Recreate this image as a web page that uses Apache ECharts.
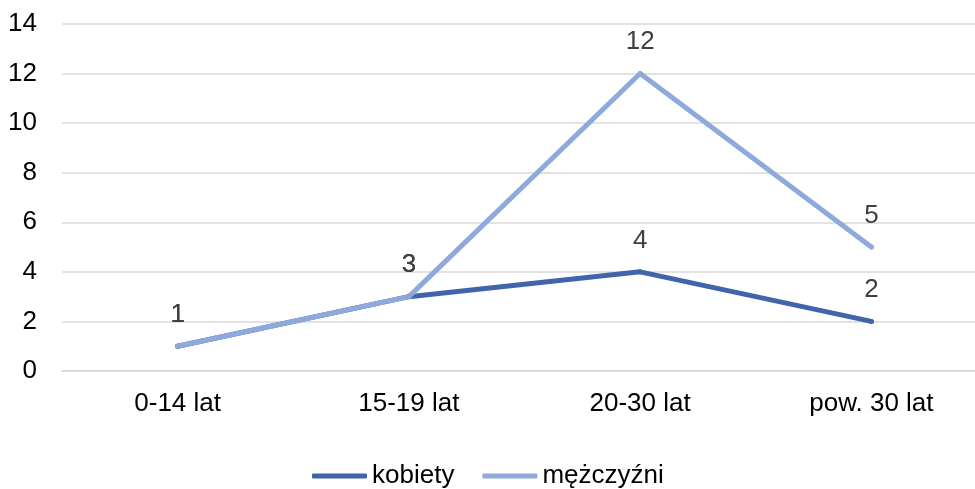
<!DOCTYPE html>
<html><head><meta charset="utf-8">
<script src="https://cdn.jsdelivr.net/npm/echarts@6/dist/echarts.min.js"></script>
<style>html,body{margin:0;padding:0;background:#fff;overflow:hidden;width:975px;height:489px}#c{width:990px;height:489px}</style>
</head><body><div id="c"></div>
<script>
var categories = ['0-14 lat', '15-19 lat', '20-30 lat', 'pow. 30 lat'];
var kobiety = [1, 3, 4, 2];
var mezczyzni = [1, 3, 12, 5];
var yTicks = {min: 0, max: 14, interval: 2};
var seriesNames = ['kobiety', 'mężczyźni'];
var colors = ['#4164AC', '#8EA9DB'];

var font = 'Liberation Sans, Arial, sans-serif';
var chart = echarts.init(document.getElementById('c'));
function mk(name, data, color) {
  return {
    name: name, type: 'line', data: data,
    symbol: 'circle', symbolSize: 5,
    itemStyle: {color: color},
    lineStyle: {color: color, width: 5, cap: 'round', join: 'round'},
    label: {show: true, position: 'top', distance: 16, color: '#404040', fontSize: 26, fontFamily: font},
    emphasis: {disabled: true},
    animation: false
  };
}
chart.setOption({
  animation: false,
  grid: {left: 62, width: 925, top: 24, bottom: 118},
  legend: {
    data: seriesNames.map(function (n, i) { return {name: n, icon: 'roundRect', itemStyle: {color: colors[i]}}; }),
    top: 458, left: 307, itemWidth: 55, itemHeight: 5, itemGap: 28,
    textStyle: {fontSize: 26, color: '#000', fontFamily: font}
  },
  xAxis: {
    type: 'category', data: categories, boundaryGap: true,
    axisLine: {lineStyle: {color: '#D9D9D9', width: 1.5}},
    axisTick: {show: false},
    axisLabel: {color: '#000', fontSize: 26, fontFamily: font, margin: 20}
  },
  yAxis: {
    type: 'value', min: yTicks.min, max: yTicks.max, interval: yTicks.interval,
    axisLine: {show: false}, axisTick: {show: false},
    splitLine: {lineStyle: {color: '#D9D9D9', width: 1.5}},
    axisLabel: {color: '#000', fontSize: 26, fontFamily: font, margin: 25}
  },
  series: [mk(seriesNames[0], kobiety, colors[0]), mk(seriesNames[1], mezczyzni, colors[1])]
});
</script></body></html>
